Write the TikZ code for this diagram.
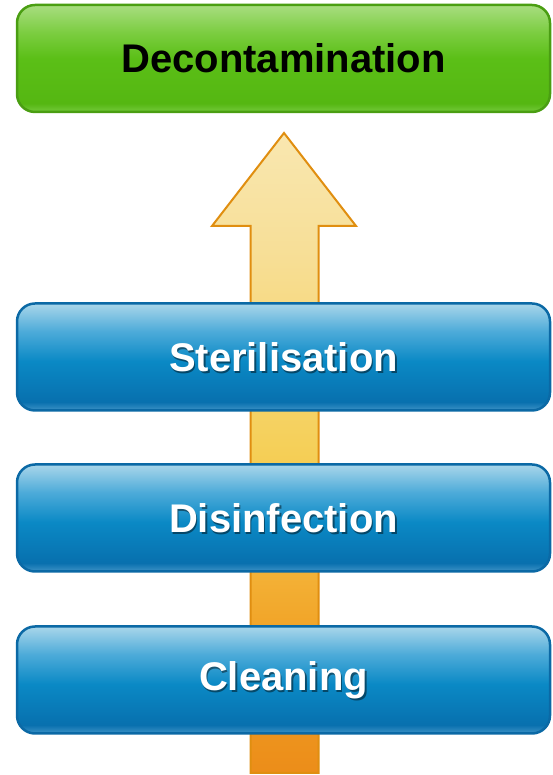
\documentclass[tikz,border=0pt]{standalone}
\usepackage{fontspec}
\setmainfont{Liberation Sans}
\definecolor{gA}{HTML}{74C93C}
\definecolor{gB}{HTML}{55B712}
\definecolor{gC}{HTML}{5BBF17}
\definecolor{gD}{HTML}{7BCD40}
\definecolor{gE}{HTML}{A8DD80}
\definecolor{gline}{HTML}{4A9E12}
\definecolor{bA}{HTML}{3D92C6}
\definecolor{bB}{HTML}{0870AE}
\definecolor{bC}{HTML}{0A89C5}
\definecolor{bD}{HTML}{4DABD9}
\definecolor{bE}{HTML}{A9D6EA}
\definecolor{bline}{HTML}{0B69A5}
\definecolor{aA}{HTML}{EC8D19}
\definecolor{aB}{HTML}{F2A62A}
\definecolor{aC}{HTML}{F5CF57}
\definecolor{aD}{HTML}{F7DF98}
\definecolor{aE}{HTML}{F9E7B0}
\definecolor{aline}{HTML}{E08E10}
\pgfdeclareverticalshading{greenshade}{100bp}{color(0bp)=(gA); color(25bp)=(gA); color(29bp)=(gB); color(50bp)=(gC); color(62bp)=(gD); color(75bp)=(gE); color(100bp)=(gE)}
\pgfdeclareverticalshading{blueshade}{100bp}{color(0bp)=(bA); color(25bp)=(bA); color(29bp)=(bB); color(48bp)=(bC); color(62bp)=(bD); color(75bp)=(bE); color(100bp)=(bE)}
\pgfdeclareverticalshading{arrowshade}{100bp}{color(0bp)=(aA); color(25bp)=(aA); color(37bp)=(aB); color(50bp)=(aC); color(66bp)=(aD); color(75bp)=(aE); color(100bp)=(aE)}
\tikzset{
  basebox/.style={rectangle, rounded corners=18pt, minimum width=533pt, minimum height=107pt, line width=2.5pt, inner sep=0pt, font=\fontsize{40}{48}\selectfont\bfseries},
  greenbox/.style={basebox, draw=gline, shade, shading=greenshade, text=black},
  bluebox/.style={basebox, draw=bline, shade, shading=blueshade},
  labelshadow/.style={text=black, opacity=0.45, font=\fontsize{40}{48}\selectfont\bfseries, inner sep=0pt},
  labeltext/.style={text=white, font=\fontsize{40}{48}\selectfont\bfseries, inner sep=0pt},
  arrowbody/.style={draw=aline, line width=2pt, line join=miter, shade, shading=arrowshade}
}
\begin{document}
\begin{tikzpicture}[x=1pt,y=1pt]
\useasboundingbox (0,0) rectangle (552,775);
% arrow
\coordinate (tip) at (284,642);
\draw[arrowbody] (tip) -- (356,549) -- (318.5,549) -- (318.5,2) -- (250.5,2) -- (250.5,549) -- (212,549) -- cycle;
% top box
\node[greenbox] (decon) at (283.5,716.5) {Decontamination};
% blue boxes
\node[bluebox] (steril) at (283.5,418) {};
\node[bluebox] (disinf) at (283.5,257) {};
\node[bluebox] (clean) at (283.5,95) {};
\foreach \n/\t in {steril/Sterilisation, disinf/Disinfection, clean/Cleaning}{
  \node[labelshadow] at ([xshift=1.5pt,yshift=-2.5pt]\n.center) {\t};
  \node[labeltext] (\n-label) at (\n.center) {\t};
}
\end{tikzpicture}
\end{document}
